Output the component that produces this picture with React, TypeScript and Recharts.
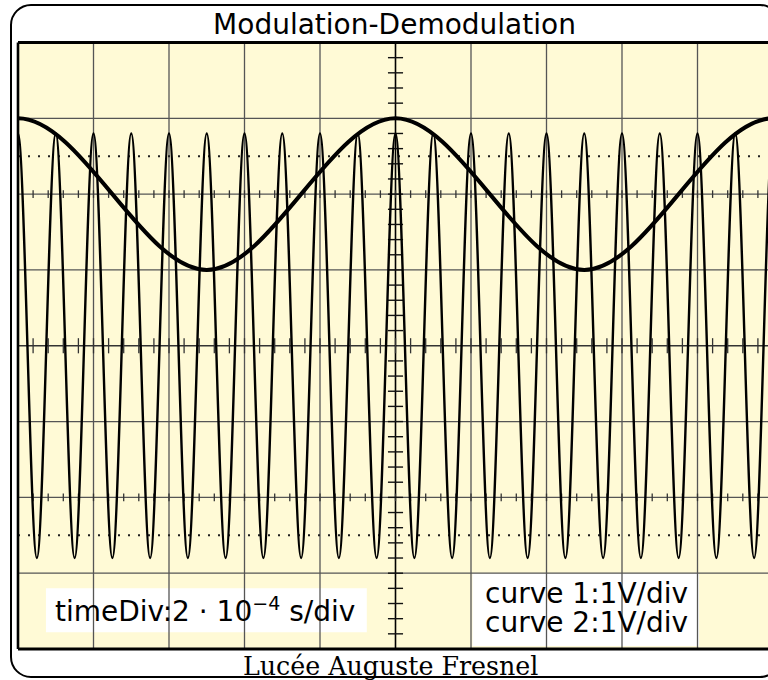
import React from 'react';
import { ComposedChart, Line, XAxis, YAxis, ReferenceLine, ReferenceArea } from 'recharts';

// time axis in divisions (1 div = 2·10^-4 s), amplitude in divisions (1 V/div)
// carrier (curve 2): extrema, a peak every half division
const carrierTimes = [
  -0.25, 0, 0.25, 0.5, 0.75, 1, 1.25, 1.5, 1.75, 2, 2.25, 2.5, 2.75, 3, 3.25, 3.5, 3.75,
  4, 4.25, 4.5, 4.75, 5, 5.25, 5.5, 5.75, 6, 6.25, 6.5, 6.75, 7, 7.25, 7.5, 7.75, 8,
  8.25, 8.5, 8.75, 9, 9.25, 9.5, 9.75, 10, 10.25,
];
const carrierValues = [
  -2.8, 2.8, -2.8, 2.8, -2.8, 2.8, -2.8, 2.8, -2.8, 2.8, -2.8, 2.8, -2.8, 2.8, -2.8, 2.8, -2.8,
  2.8, -2.8, 2.8, -2.8, 2.8, -2.8, 2.8, -2.8, 2.8, -2.8, 2.8, -2.8, 2.8, -2.8, 2.8, -2.8, 2.8,
  -2.8, 2.8, -2.8, 2.8, -2.8, 2.8, -2.8, 2.8, -2.8,
];
// envelope (curve 1): slow wave, period 5 div, between +1 and +3 div
const envelopeTimes = [-2.5, 0, 2.5, 5, 7.5, 10, 12.5];
const envelopeValues = [1, 3, 1, 3, 1, 3, 1];

const gridTimes = [1, 2, 3, 4, 6, 7, 8, 9];
const gridLevels = [-3, -2, -1, 1, 2, 3];
const dottedLevels = [-2.5, 2.5];
const tickedLevels = [-2, 2];

const carrierData = carrierTimes.map((t, i) => ({ t, v: carrierValues[i] }));
const envelopeData = envelopeTimes.map((t, i) => ({ t, v: envelopeValues[i] }));

// minor graduation marks every 0.2 div
const minorX: number[] = [];
for (let k = 1; k < 50; k++) minorX.push(+(k * 0.2).toFixed(1));
const minorY: number[] = [];
for (let k = -19; k < 20; k++) if (k !== 0) minorY.push(+(k * 0.2).toFixed(1));

const SCREEN = '#fffad6';
const GRID = '#555';
const SANS = '"DejaVu Sans", sans-serif';

export default function App() {
  return (
    <div style={{ position: 'fixed', left: 0, top: 0, width: 768, height: 680, overflow: 'hidden', background: '#fff' }}>
      <div style={{ position: 'absolute', left: 0, top: 0 }}>
        <ComposedChart width={800} height={680} margin={{ top: 42.5, right: 27, bottom: 31, left: 18 }}>
          <XAxis type="number" dataKey="t" domain={[0, 10]} hide allowDataOverflow />
          <YAxis type="number" dataKey="v" domain={[-4, 4]} hide allowDataOverflow />

          <ReferenceArea x1={0} x2={10} y1={-4} y2={4} fill={SCREEN} fillOpacity={1} stroke="none" />
          <ReferenceArea x1={0.37} x2={4.62} y1={-3.78} y2={-3.2} fill="#fff" fillOpacity={1} stroke="none" />
          <ReferenceArea x1={6.02} x2={9.02} y1={-3.96} y2={-3.0} fill="#fff" fillOpacity={1} stroke="none" />

          {gridTimes.map((x) => (
            <ReferenceLine key={`gx${x}`} x={x} stroke={GRID} strokeWidth={1.3} />
          ))}
          {gridLevels.map((y) => (
            <ReferenceLine key={`gy${y}`} y={y} stroke={GRID} strokeWidth={1.3} />
          ))}
          <ReferenceLine y={0} stroke="#333" strokeWidth={1.4} />
          <ReferenceLine x={5} stroke="#000" strokeWidth={1.6} />

          {dottedLevels.map((y) => (
            <ReferenceLine key={`d${y}`} y={y} stroke="#222" strokeWidth={2} strokeDasharray="2 8" />
          ))}

          {minorX.map((x) => (
            <ReferenceLine key={`mx${x}`} segment={[{ x, y: -0.1 }, { x, y: 0.1 }]} stroke="#333" strokeWidth={1.3} />
          ))}
          {tickedLevels.map((lvl) =>
            minorX.map((x) => (
              <ReferenceLine
                key={`t${lvl}-${x}`}
                segment={[{ x, y: lvl - 0.05 }, { x, y: lvl + 0.05 }]}
                stroke="#333"
                strokeWidth={1.3}
              />
            ))
          )}
          {minorY.map((y) => (
            <ReferenceLine key={`my${y}`} segment={[{ x: 4.9, y }, { x: 5.1, y }]} stroke="#111" strokeWidth={1.4} />
          ))}

          <Line
            data={carrierData}
            dataKey="v"
            type="monotone"
            stroke="#000"
            strokeWidth={2.4}
            dot={false}
            activeDot={false}
            isAnimationActive={false}
          />
          <Line
            data={envelopeData}
            dataKey="v"
            type="monotone"
            stroke="#000"
            strokeWidth={4}
            dot={false}
            activeDot={false}
            isAnimationActive={false}
          />

          <ReferenceLine x={0} stroke="#000" strokeWidth={2.6} />
          <ReferenceLine y={4} stroke="#000" strokeWidth={2.8} />
          <ReferenceLine y={-4} stroke="#000" strokeWidth={2.8} />
        </ComposedChart>
      </div>

      <svg width={768} height={680} style={{ position: 'absolute', left: 0, top: 0, pointerEvents: 'none' }}>
        <rect x={11} y={5} width={769} height={672} rx={20} ry={20} fill="none" stroke="#000" strokeWidth={2} />
        <text x={394.5} y={34} textAnchor="middle" fontFamily={SANS} fontSize={28} fill="#000">
          Modulation-Demodulation
        </text>
        <text x={55} y={620.5} fontFamily={SANS} fontSize={28} fill="#000">
          timeDiv:2 · 10
          <tspan dy={-11} fontSize={19}>−4</tspan>
          <tspan dy={11}> s/div</tspan>
        </text>
        <text x={485} y={603} fontFamily={SANS} fontSize={28} fill="#000">
          curve 1:1V/div
        </text>
        <text x={485} y={631.5} fontFamily={SANS} fontSize={28} fill="#000">
          curve 2:1V/div
        </text>
        <text x={243} y={675} fontFamily='"DejaVu Serif", serif' fontSize={25.3} fill="#000">
          Lucée Auguste Fresnel
        </text>
      </svg>
    </div>
  );
}
